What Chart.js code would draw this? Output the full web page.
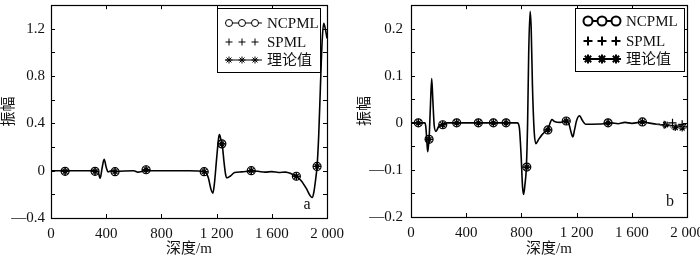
<!DOCTYPE html>
<html><head><meta charset="utf-8">
<script src="https://cdn.jsdelivr.net/npm/chart.js@4/dist/chart.umd.min.js"></script>
<style>
html,body{margin:0;padding:0;background:#fff;}
#wrap{position:relative;width:700px;height:258px;overflow:hidden;}
canvas{position:absolute;top:0;}
</style></head><body>
<div id="wrap"><canvas id="ca" width="350" height="258" style="left:0"></canvas><canvas id="cb" width="350" height="258" style="left:350px"></canvas></div>
<script>
// ---------- Panel a data ----------
const aDepth = [0,100,300,340,356,370,385,400,413,440,470,600,630,660,690,720,1000,1110,1140,1160,1173,1185,1200,1215,1221,1232,1240,1255,1265,1275,1300,1330,1380,1450,1500,1550,1600,1650,1700,1740,1775,1810,1850,1880,1892,1905,1918,1928,1940,1952,1965,1976,1988,2000];
const aAmp   = [0,0,0,-0.005,-0.064,0.02,0.097,0.03,-0.01,0,-0.005,0,-0.012,-0.005,0.008,0,0,-0.005,-0.06,-0.16,-0.19,-0.1,0.1,0.28,0.305,0.26,0.227,0.06,-0.03,-0.06,-0.045,-0.015,-0.01,-0.002,-0.005,-0.012,-0.008,-0.015,-0.012,-0.025,-0.047,-0.08,-0.15,-0.215,-0.227,-0.18,-0.07,0.036,0.3,0.7,1.1,1.247,1.2,1.12];
const aMarkDepth  = [102,319,464,689,1110,1238,1451,1778,1928];
const aNcpmlMark  = [-0.005,-0.005,-0.008,0.008,-0.008,0.227,0,-0.047,0.036];
const aSpmlMark   = [-0.005,-0.005,-0.008,0.008,-0.008,0.227,0,-0.047,0.036];
const aTheoryMark = [-0.005,-0.005,-0.008,0.008,-0.008,0.227,0,-0.047,0.036];
const aXTicks = [0,400,800,1200,1600,2000];
const aXMinor = [0,400,800,1200,1600,2000];
const aYTicks = [-0.4,0,0.4,0.8,1.2];
const aYMinor = [-0.2,0,0.2,0.4,0.6,0.8,1.0,1.2];

// ---------- Panel b data ----------
const bDepth = [0,100,108,115,121,126,131,140,150,158,168,181,200,227,260,700,770,785,798,808,816,826,836,845,853,863,871,880,893,905,925,950,975,992,1005,1021,1040,1080,1125,1145,1160,1173,1185,1200,1222,1240,1265,1400,1450,1500,1550,1600,1680,1720,1780,1840,1900,1960,2000];
const bAmp   = [0,0,-0.01,-0.04,-0.061,-0.05,-0.035,0.03,0.094,0.05,-0.005,-0.018,-0.008,-0.004,0,0,0,-0.01,-0.07,-0.135,-0.152,-0.13,-0.094,0,0.15,0.237,0.2,0.08,-0.02,-0.044,-0.035,-0.025,-0.018,-0.015,-0.003,0.007,0.003,0.001,0.004,-0.003,-0.02,-0.03,-0.015,0.005,0.015,0.006,-0.003,-0.002,0,-0.002,0.001,-0.001,0.002,0,-0.003,-0.005,-0.006,-0.007,-0.008];
const bTheoryDepth = [1780,1800,1830,1860,1890,1920,1950,1980,2000];
const bTheoryAmp   = [-0.003,-0.002,-0.008,0.002,-0.012,-0.002,-0.013,-0.004,-0.012];
const bNcpmlDepth  = [53,131,230,331,488,597,689,839,992,1125,1428,1677];
const bNcpmlMark   = [0,-0.035,-0.004,0,0,0,0,-0.094,-0.015,0.004,0,0.002];
const bSpmlDepth   = [53,131,230,331,488,597,689,839,992,1125,1428,1677,1835,1895,1965];
const bSpmlMark    = [0,-0.035,-0.004,0,0,0,0,-0.094,-0.015,0.004,0,0.002,-0.004,0,-0.003];
const bTheoryDepthMk = [53,131,230,331,488,597,689,839,992,1125,1428,1677,1845,1915,1965];
const bTheoryMark  = [0,-0.035,-0.004,0,0,0,0,-0.094,-0.015,0.004,0,0.002,-0.004,-0.01,-0.011];
const bXTicks = [0,400,800,1200,1600,2000];
const bXMinor = [0,400,800,1200,1600,2000];
const bYTicks = [-0.2,-0.1,0,0.1,0.2];
const bYMinor = [-0.15,-0.1,-0.05,0,0.05,0.1,0.15,0.2];

const seriesNames = ['NCPML','SPML','理论值'];

Chart.defaults.font.family = "'Liberation Serif','Noto Sans CJK SC',serif";
Chart.defaults.font.size = 15;
Chart.defaults.color = '#111';

const pts = (xs, ys) => xs.map((x,i)=>({x:x, y:ys[i]}));
const fmtX = v => v>=1000 ? Math.floor(v/1000)+' '+String(v%1000).padStart(3,'0') : String(v);
const fmtY = v => { const s = String(Math.round(v*10)/10); return v<0 ? '\u2014'+s.slice(1) : s; };

const framePlugin = {
  id:'frame',
  afterDatasetsDraw(chart, args, o){
    const {ctx, chartArea:{left,right,top,bottom}, scales:{x,y}} = chart;
    ctx.save();
    ctx.strokeStyle='#000'; ctx.lineWidth=1;
    ctx.beginPath();
    o.xMinor.forEach(v=>{ const p=Math.round(x.getPixelForValue(v))+0.5; ctx.moveTo(p,bottom); ctx.lineTo(p,bottom-4); ctx.moveTo(p,top); ctx.lineTo(p,top+4);});
    o.yMinor.forEach(v=>{ const p=Math.round(y.getPixelForValue(v))+0.5; ctx.moveTo(left,p); ctx.lineTo(left+4,p); ctx.moveTo(right,p); ctx.lineTo(right-4,p);});
    ctx.stroke();
    ctx.lineWidth=1.2;
    ctx.strokeRect(Math.round(left)+0.5, Math.round(top)+0.5, Math.round(right-left), Math.round(bottom-top));
    // legend
    const L = o.legend;
    ctx.fillStyle='#fff';
    ctx.fillRect(L.box[0],L.box[1],L.box[2]-L.box[0],L.box[3]-L.box[1]);
    ctx.lineWidth=1; ctx.strokeStyle='#000';
    ctx.strokeRect(L.box[0]+0.5,L.box[1]+0.5,L.box[2]-L.box[0],L.box[3]-L.box[1]);
    const styles = [{ps:'circle',r:L.r,line:true},{ps:'cross',r:L.r,line:false},{ps:'star',r:L.r,line:true}];
    ctx.font = "15px 'Liberation Serif','Noto Sans CJK SC',serif";
    ctx.textBaseline='middle'; ctx.textAlign='left';
    seriesNames.forEach((name,i)=>{
      const yy = L.rows[i];
      const st = styles[i];
      if (st.line){ ctx.beginPath(); ctx.lineWidth=L.lw; ctx.moveTo(L.line[0],yy); ctx.lineTo(L.line[1],yy); ctx.stroke(); }
      L.marks.forEach(mx=>{
        Chart.helpers.drawPoint(ctx,{pointStyle:st.ps, radius:st.r, borderWidth:L.mw, rotation:0}, mx, yy);
      });
      ctx.fillStyle='#111';
      ctx.fillText(name, L.text, yy+1);
    });
    // panel letter
    ctx.font = "16px 'Liberation Serif',serif";
    ctx.textAlign='center';
    ctx.fillText(o.letter[0], o.letter[1], o.letter[2]);
    ctx.restore();
  }
};

function makeChart(id, cfg){
  const fixX = s => { s.height = cfg.xh; s.paddingLeft=0; s.paddingRight=0; };
  const fixY = s => { s.width = cfg.yw; s.paddingTop=0; s.paddingBottom=0; };
  return new Chart(document.getElementById(id), {
    type:'scatter',
    data:{ datasets: cfg.datasets },
    options:{
      responsive:false, animation:false, devicePixelRatio:1,
      layout:{ padding:{left:0,right:cfg.pr,top:1,bottom:0} },
      plugins:{ legend:{display:false}, tooltip:{enabled:false}, frame:cfg.frame },
      scales:{
        x:{ type:'linear', min:0, max:2000,
            grid:{display:false, drawTicks:false}, border:{display:false},
            afterBuildTicks: s => { s.ticks = cfg.xTicks.map(v=>({value:v})); },
            afterFit: fixX,
            ticks:{ autoSkip:false, maxRotation:0, padding:7, callback:v=>fmtX(v) },
            title:{ display:true, text:'深度/m', padding:{top:0,bottom:0}, font:{size:15} } },
        y:{ type:'linear', min:cfg.ymin, max:cfg.ymax,
            grid:{display:false, drawTicks:false}, border:{display:false},
            afterBuildTicks: s => { s.ticks = cfg.yTicks.map(v=>({value:v})); },
            afterFit: fixY,
            ticks:{ autoSkip:false, padding:cfg.ypad, callback:v=>fmtY(v) },
            title:{ display:true, text:'振幅', padding:{top:cfg.ytp,bottom:0}, font:{size:15} } }
      }
    },
    plugins:[framePlugin]
  });
}

const lineDs = (data, color, w) => ({ data, showLine:true, borderColor:color, borderWidth:w, pointRadius:0, cubicInterpolationMode:'monotone', fill:false });
const markDs = (data, ps, r) => ({ data, showLine:false, pointStyle:ps, pointRadius:r, pointBorderColor:'#000', pointBackgroundColor:'rgba(0,0,0,0)', pointBorderWidth:1.2 });

makeChart('ca', {
  xh:40, yw:51, pr:23, ymin:-0.4, ymax:1.4, ypad:6, ytp:0,
  xTicks:aXTicks, yTicks:aYTicks,
  frame:{ xMinor:aXMinor, yMinor:aYMinor, letter:['a',307,205],
          legend:{ box:[217,8,320,72], rows:[23,42,60], line:[225,262], marks:[229,242,255], text:267, r:3.5, lw:1, mw:1 } },
  datasets:[
    lineDs(pts(aDepth,aAmp), '#000', 1.6),
    markDs(pts(aMarkDepth,aNcpmlMark), 'circle', 4),
    markDs(pts(aMarkDepth,aSpmlMark), 'cross', 4),
    markDs(pts(aMarkDepth,aTheoryMark), 'star', 3.5)
  ]
});

makeChart('cb', {
  xh:41, yw:61, pr:13, ymin:-0.2, ymax:0.25, ypad:8, ytp:6,
  xTicks:bXTicks, yTicks:bYTicks,
  frame:{ xMinor:bXMinor, yMinor:bYMinor, letter:['b',320,202],
          legend:{ box:[225,8,334,71], rows:[21,41,59], line:[233,271], marks:[238,252,266], text:276, r:4.5, lw:2, mw:1.6 } },
  datasets:[
    lineDs(pts(bTheoryDepth,bTheoryAmp), '#555', 1),
    lineDs(pts(bDepth,bAmp), '#000', 1.6),
    markDs(pts(bNcpmlDepth,bNcpmlMark), 'circle', 4),
    markDs(pts(bSpmlDepth,bSpmlMark), 'cross', 4),
    markDs(pts(bTheoryDepthMk,bTheoryMark), 'star', 3.5)
  ]
});
</script>
</body></html>
